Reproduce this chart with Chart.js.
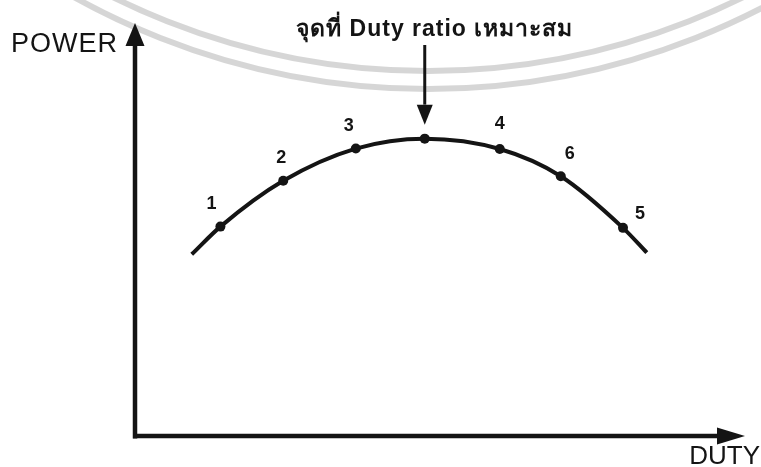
<!DOCTYPE html>
<html lang="th">
<head>
  <meta charset="UTF-8" />
  <meta name="viewport" content="width=device-width, initial-scale=1.0"/>
  <title>Duty ratio - Power</title>
  <script src="https://cdn.jsdelivr.net/npm/chart.js"></script>
  <style>
    body {
      margin: 0;
      background: #fff;
    }
    .grafico {
      position: relative;
      width: 761px;
      height: 467px;
    }
  </style>
</head>
<body>
  <div class="grafico">
    <canvas id="graficoDuty"></canvas>
  </div>

  <script>
    // curve samples (duty, power) in axis units 0..10
    const duty  = [0.93, 1.40, 2.43, 3.62, 4.75, 5.98, 6.98, 8.00, 8.39];
    const power = [4.40, 5.07, 6.18, 6.96, 7.20, 6.95, 6.29, 5.04, 4.44];
    const pointNames = ['', '1', '2', '3', '', '4', '6', '5', ''];
    const bestIndex = 4;
    const titleText = 'จุดที่ Duty ratio เหมาะสม';
    const xName = 'DUTY';
    const yName = 'POWER';

    // where each number sits relative to its dot
    const nameOffsets = [null, [-9, -23], [-2, -23], [-7, -23], null, [0, -25], [9, -22], [17, -14], null];

    const ink = '#141414';
    const font = '"Liberation Sans", Arial, sans-serif';

    function arrow(ctx, x1, y1, x2, y2, headLen, headHalf, width) {
      const a = Math.atan2(y2 - y1, x2 - x1);
      const bx = x2 - headLen * Math.cos(a);
      const by = y2 - headLen * Math.sin(a);
      ctx.lineWidth = width;
      ctx.beginPath();
      ctx.moveTo(x1, y1);
      ctx.lineTo(bx, by);
      ctx.stroke();
      ctx.beginPath();
      ctx.moveTo(x2, y2);
      ctx.lineTo(bx - headHalf * Math.sin(a), by + headHalf * Math.cos(a));
      ctx.lineTo(bx + headHalf * Math.sin(a), by - headHalf * Math.cos(a));
      ctx.closePath();
      ctx.fill();
    }

    const sketch = {
      id: 'sketch',
      beforeDatasetsDraw(chart) {
        const ctx = chart.ctx;
        // faint seal rings behind the drawing
        ctx.save();
        ctx.strokeStyle = 'rgba(0,0,0,0.16)';
        ctx.lineWidth = 6;
        [709, 727].forEach(r => {
          ctx.beginPath();
          ctx.arc(428, -638, r, 0, Math.PI);
          ctx.stroke();
        });
        ctx.restore();

        // axes with arrow heads
        const x = chart.scales.x, y = chart.scales.y;
        const ox = x.getPixelForValue(0), oy = y.getPixelForValue(0);
        ctx.save();
        ctx.strokeStyle = ink;
        ctx.fillStyle = ink;
        arrow(ctx, ox, oy + 2.5, ox, y.getPixelForValue(10), 23, 9.5, 4.5);
        arrow(ctx, ox - 2, oy, x.getPixelForValue(10), oy, 28, 8.5, 4.5);

        ctx.font = '27px ' + font;
        ctx.letterSpacing = '1px';
        ctx.textBaseline = 'alphabetic';
        ctx.textAlign = 'right';
        ctx.fillText(yName, ox - 17, 52);
        ctx.letterSpacing = '0px';
        ctx.font = '26px ' + font;
        ctx.fillText(xName, x.getPixelForValue(10) + 15, oy + 28);
        ctx.restore();
      },
      afterDatasetsDraw(chart) {
        const ctx = chart.ctx;
        const pts = chart.getDatasetMeta(0).data;
        ctx.save();
        ctx.fillStyle = ink;
        ctx.strokeStyle = ink;
        ctx.font = 'bold 18px ' + font;
        ctx.textAlign = 'center';
        ctx.textBaseline = 'middle';
        pointNames.forEach((n, i) => {
          if (!n) return;
          const off = nameOffsets[i];
          ctx.fillText(n, pts[i].x + off[0], pts[i].y + off[1]);
        });

        // pointer to the best duty ratio
        const best = pts[bestIndex];
        arrow(ctx, best.x, 45, best.x, best.y - 14, 20, 8, 3);
        ctx.font = 'bold 23px ' + font;
        ctx.letterSpacing = '1px';
        ctx.textBaseline = 'alphabetic';
        ctx.fillText(titleText, best.x + 10, 36);
        ctx.restore();
      }
    };

    new Chart(document.getElementById('graficoDuty'), {
      type: 'scatter',
      data: {
        datasets: [{
          data: duty.map((d, i) => ({ x: d, y: power[i] })),
          showLine: true,
          borderColor: ink,
          borderWidth: 4,
          cubicInterpolationMode: 'monotone',
          pointRadius: pointNames.map((n, i) => (n || i === bestIndex) ? 5 : 0),
          pointBackgroundColor: ink,
          pointBorderWidth: 0
        }]
      },
      options: {
        responsive: true,
        maintainAspectRatio: false,
        animation: false,
        events: [],
        layout: { padding: { left: 135, right: 16, top: 23, bottom: 31 } },
        scales: {
          x: { type: 'linear', min: 0, max: 10, display: false },
          y: { type: 'linear', min: 0, max: 10, display: false }
        },
        plugins: {
          legend: { display: false },
          tooltip: { enabled: false }
        }
      },
      plugins: [sketch]
    });
  </script>
</body>
</html>
